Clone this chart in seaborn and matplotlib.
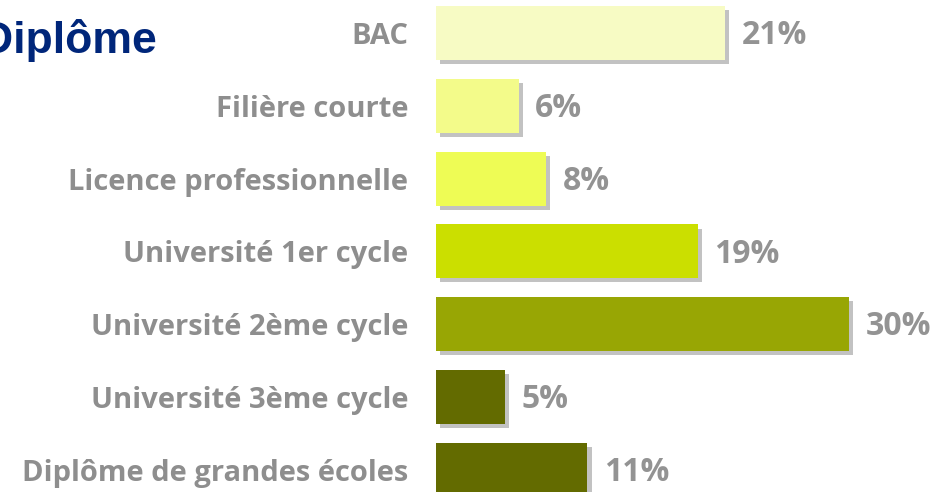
import matplotlib
matplotlib.use("Agg")
import matplotlib.pyplot as plt
import matplotlib.patheffects as pe
import seaborn as sns
import pandas as pd

categories = ["BAC", "Filière courte", "Licence professionnelle", "Université 1er cycle",
              "Université 2ème cycle", "Université 3ème cycle", "Diplôme de grandes écoles"]
values = [21, 6, 8, 19, 30, 5, 11]
value_labels = ["21%", "6%", "8%", "19%", "30%", "5%", "11%"]
colors = ["#F7FBC4", "#F3FB8A", "#EEFC55", "#CBDF00", "#98A604", "#636B00", "#636B00"]
title = "Diplôme"

sns.set_theme(style="white")
plt.rcParams["font.family"] = ["Open Sans", "DejaVu Sans"]

W, H = 951, 492
fig = plt.figure(figsize=(W / 100, H / 100), dpi=100)
ax = fig.add_axes([436 / W, 0, 1 - 436 / W, 1])

df = pd.DataFrame({"cat": categories, "val": values})
sns.barplot(data=df, x="val", y="cat", hue="cat", palette=colors, legend=False,
            width=0.74, ax=ax, saturation=1, edgecolor="none", linewidth=0)

for p in ax.patches:
    p.set_path_effects([pe.SimplePatchShadow(offset=(3, -3), shadow_rgbFace="#9a9a9a", alpha=0.6),
                        pe.Normal()])

ax.set_xlim(0, 515 / 13.77)
ax.set_ylim(6.305, -0.453)
ax.set_xlabel("")
ax.set_ylabel("")
ax.set_xticks([])
for s in ax.spines.values():
    s.set_visible(False)
ax.tick_params(axis="y", left=False, pad=14)
for t in ax.get_yticklabels():
    t.set_fontsize(21)
    t.set_fontweight("bold")
    t.set_color("#8E8E8E")

for i, (v, lab) in enumerate(zip(values, value_labels)):
    ax.annotate(lab, xy=(v, i), xytext=(12, -2), textcoords="offset points",
                ha="left", va="center", fontsize=23, fontweight="bold", color="#939393")

fig.text(157 / W, 1 - 53 / H, title, ha="right", va="baseline", fontsize=32,
         fontweight="bold", color="#00267A", family=["Liberation Sans", "DejaVu Sans"])

fig.savefig("out.png", dpi=100)
